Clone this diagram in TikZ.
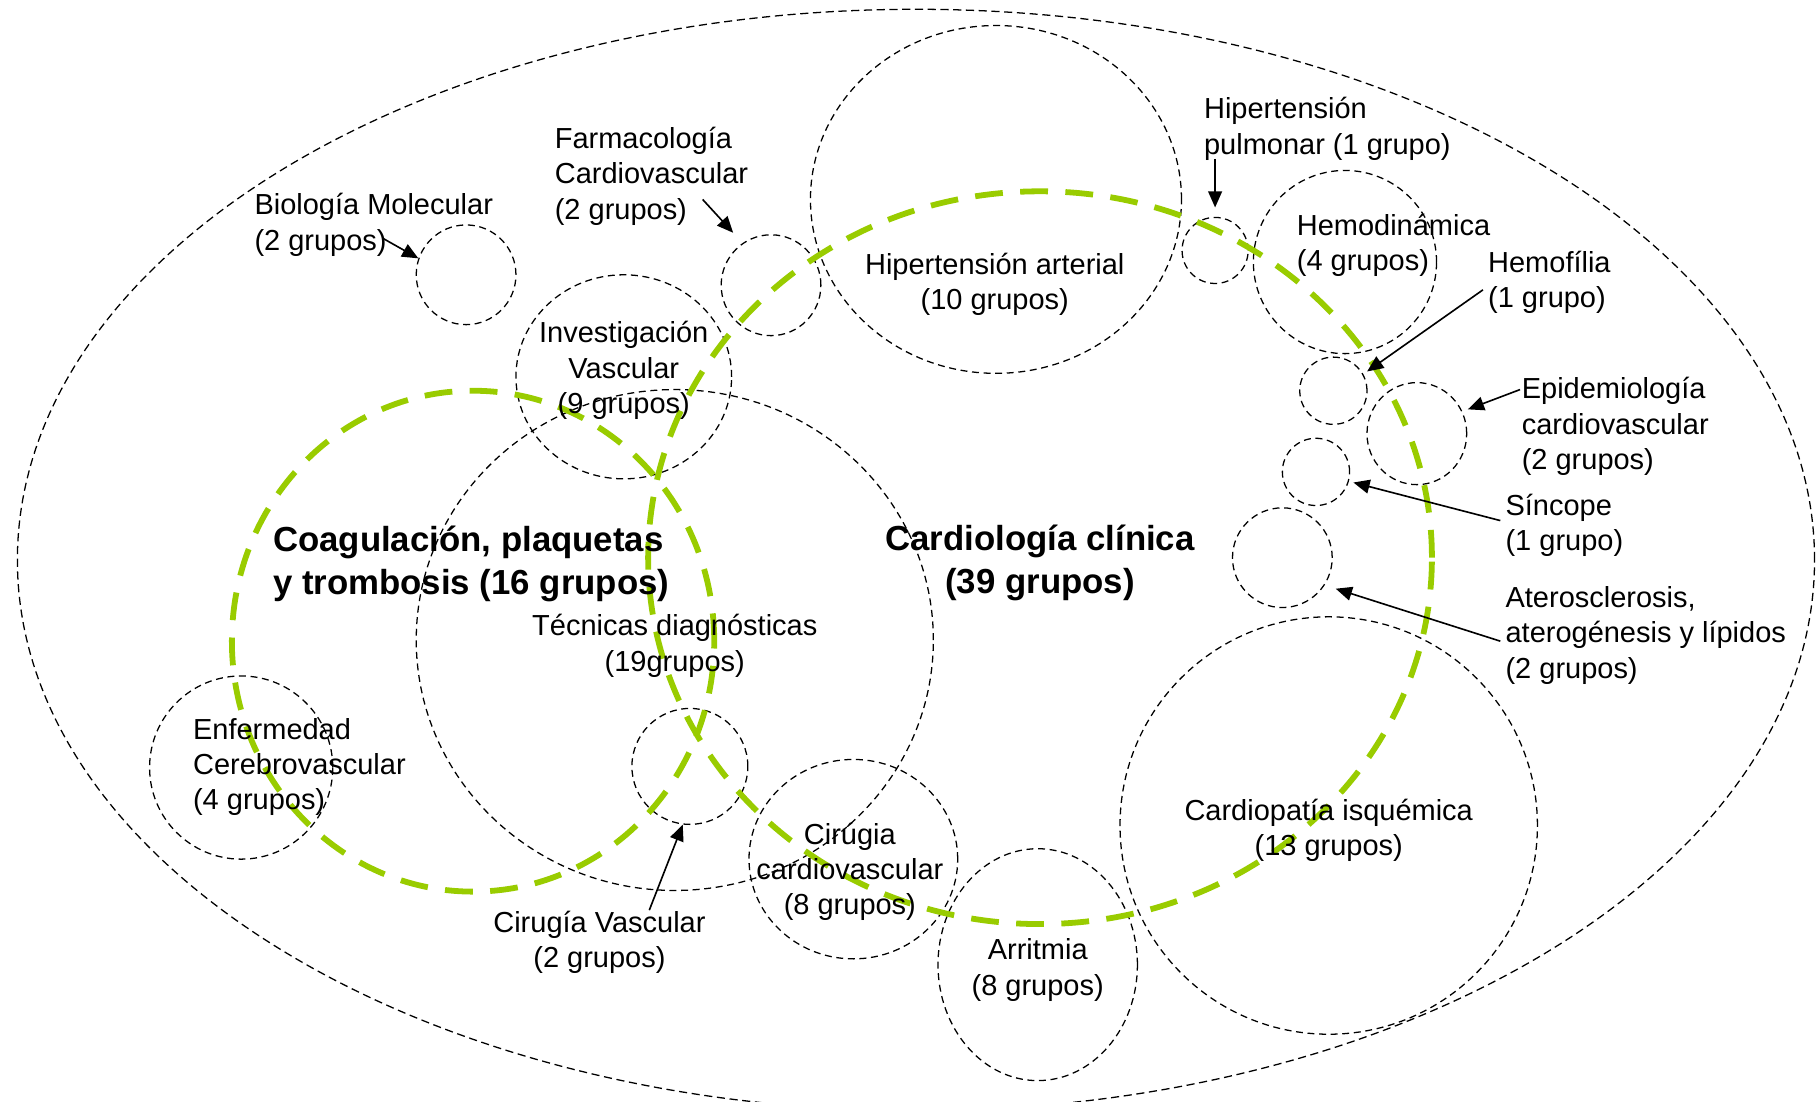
\documentclass[tikz,border=0pt]{standalone}
\usepackage{fontspec}
\setmainfont{Liberation Sans}
\usetikzlibrary{arrows.meta,shapes.geometric}
\definecolor{grn}{RGB}{153,204,0}

\begin{document}
\begin{tikzpicture}[x=1pt,y=-1pt]
    \tikzstyle{every node}=[font=\fontsize{25}{30.5}\selectfont]
    \tikzstyle{area}=[draw,ellipse,inner sep=0pt,line width=1.1pt,dash pattern=on 6pt off 4pt]
    \tikzstyle{group}=[draw=grn,ellipse,inner sep=0pt,line width=5pt,dash pattern=on 24pt off 15pt]
    \tikzstyle{title}=[font=\fontsize{30}{37}\selectfont\bfseries]
    \tikzstyle{pointer}=[-{Triangle[length=14pt,width=12pt]},line width=1.4pt]
    \useasboundingbox (0,0) rectangle (1568,950);

    \node[area,minimum width=1550pt,minimum height=950pt,dash pattern=on 7pt off 4pt] (all) at (790,483) {};

    \node[area,minimum width=320pt,minimum height=300pt] (hta) at (859,172) {};
    \node[area,minimum width=86pt,minimum height=87pt] (farm) at (665,246) {};
    \node[area,minimum width=86pt,minimum height=86pt] (bio) at (402,237) {};
    \node[area,minimum width=186pt,minimum height=176pt] (invvas) at (538,325) {};
    \node[area,minimum width=446pt,minimum height=432pt] (tecdiag) at (582,552) {};
    \node[area,minimum width=158pt,minimum height=158pt] (cerebro) at (208,662) {};
    \node[area,minimum width=100pt,minimum height=100pt] (cirvas) at (595,661) {};
    \node[area,minimum width=180pt,minimum height=172pt] (circard) at (736,741) {};
    \node[area,minimum width=172pt,minimum height=200pt] (arrit) at (895,832) {};
    \node[area,minimum width=360pt,minimum height=360pt] (isq) at (1146,712) {};
    \node[area,minimum width=86pt,minimum height=86pt] (atero) at (1106,481) {};
    \node[area,minimum width=58pt,minimum height=58pt] (sincope) at (1135,407) {};
    \node[area,minimum width=58pt,minimum height=58pt] (hemof) at (1150,337) {};
    \node[area,minimum width=86pt,minimum height=88pt] (epidem) at (1222,374) {};
    \node[area,minimum width=158pt,minimum height=158pt] (hemodin) at (1160,226) {};
    \node[area,minimum width=57pt,minimum height=57pt] (hpulm) at (1048,216) {};

    \node[group,minimum width=416pt,minimum height=432pt] (coag) at (408,553) {};
    \node[group,minimum width=676pt,minimum height=632pt] (cardio) at (897,481) {};

    \node[anchor=west,align=left] (biolbl) at (216,194) {Biología Molecular\\(2 grupos)};
    \node[anchor=west,align=left] (farmlbl) at (475,152) {Farmacología\\Cardiovascular\\(2 grupos)};
    \node[align=center] (htalbl) at (858,245) {Hipertensión arterial\\(10 grupos)};
    \node[anchor=west,align=left] (hpulmlbl) at (1035,111) {Hipertensión\\pulmonar (1 grupo)};
    \node[anchor=west,align=left] (hemodinlbl) at (1115,211.5) {Hemodinámica\\(4 grupos)};
    \node[anchor=west,align=left] (hemoflbl) at (1280,243.5) {Hemofília\\(1 grupo)};
    \node[anchor=west,align=left] (epidemlbl) at (1309,368) {Epidemiología\\cardiovascular\\(2 grupos)};
    \node[anchor=west,align=left] (sincopelbl) at (1295,453) {Síncope\\(1 grupo)};
    \node[anchor=west,align=left] (aterolbl) at (1295,548) {Aterosclerosis,\\aterogénesis y lípidos\\(2 grupos)};
    \node[align=center] (invvaslbl) at (538,319.5) {Investigación\\Vascular\\(9 grupos)};
    \node[title,anchor=west,align=left] (coaglbl) at (232,486.5) {Coagulación, plaquetas\\y trombosis (16 grupos)};
    \node[title,align=center] (cardiolbl) at (897,485.5) {Cardiología clínica\\(39 grupos)};
    \node[align=center] (tecdiaglbl) at (582,557) {Técnicas diagnósticas\\(19grupos)};
    \node[anchor=west,align=left] (cerebrolbl) at (163,661.5) {Enfermedad\\Cerebrovascular\\(4 grupos)};
    \node[align=center] (cirvaslbl) at (517,812.5) {Cirugía Vascular\\(2 grupos)};
    \node[align=center] (circardlbl) at (733,752) {Cirúgia\\cardiovascular\\(8 grupos)};
    \node[align=center] (arritlbl) at (895,836.5) {Arritmia\\(8 grupos)};
    \node[align=center] (isqlbl) at (1146,716) {Cardiopatía isquémica\\(13 grupos)};

    \coordinate (bioptr) at (331,206);
    \coordinate (farmptr) at (606,172);
    \coordinate (hpulmptr) at (1048,137);
    \coordinate (hemofptr) at (1279,250);
    \coordinate (epidemptr) at (1311,336);
    \coordinate (sincopeptr) at (1294,449);
    \coordinate (ateroptr) at (1294,553);
    \coordinate (cirvasptr) at (560,785);

    \draw[pointer] (bioptr) -- (bio.161);
    \draw[pointer,shorten >=12pt] (farmptr) -- (farm.124);
    \draw[pointer,shorten >=8pt] (hpulmptr) -- (hpulm.north);
    \draw[pointer,shorten >=4pt] (hemofptr) -- (hemof.29);
    \draw[pointer,shorten >=5pt] (epidemptr) -- (epidem.26);
    \draw[pointer,shorten >=4pt] (sincopeptr) -- (sincope.344);
    \draw[pointer,shorten >=10pt] (ateroptr) -- (atero.327);
    \draw[pointer] (cirvasptr) -- (cirvas.263);
\end{tikzpicture}
\end{document}
